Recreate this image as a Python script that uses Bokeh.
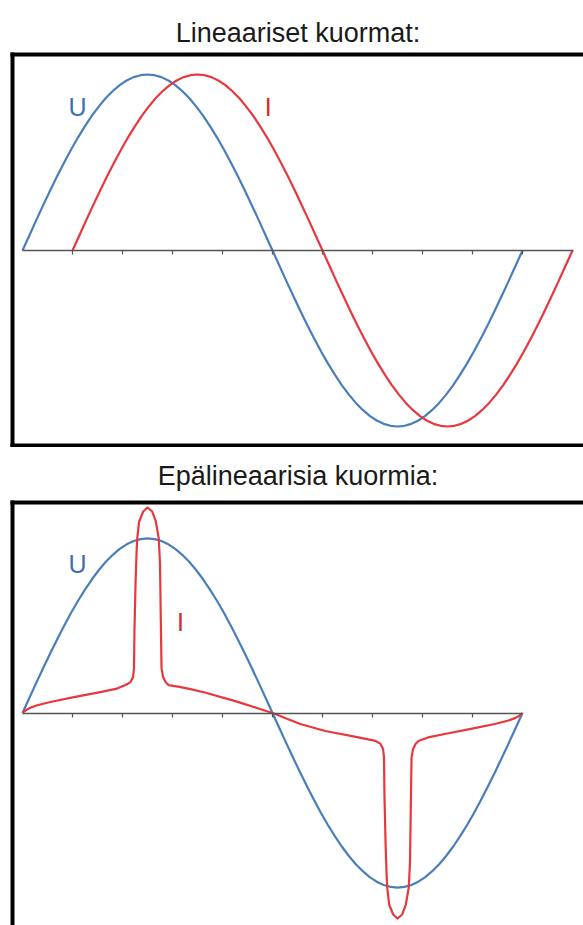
from bokeh.plotting import figure
from bokeh.models import Range1d, LinearAxis, FixedTicker
from bokeh.layouts import column
from bokeh.core.properties import value
from bokeh.embed import file_html
from bokeh.resources import INLINE

# ---------------- data ----------------
# phase angle (degrees) and voltage wave (per-unit)
u_deg = list(range(0, 361, 5))
u_wave = [0.0, 0.087, 0.174, 0.259, 0.342, 0.423, 0.5, 0.574, 0.643, 0.707, 0.766, 0.819,
          0.866, 0.906, 0.940, 0.966, 0.985, 0.996, 1.0, 0.996, 0.985, 0.966, 0.940, 0.906,
          0.866, 0.819, 0.766, 0.707, 0.643, 0.574, 0.5, 0.423, 0.342, 0.259, 0.174, 0.087,
          0.0,
          -0.087, -0.174, -0.259, -0.342, -0.423, -0.5, -0.574, -0.643, -0.707, -0.766,
          -0.819, -0.866, -0.906, -0.940, -0.966, -0.985, -0.996, -1.0, -0.996, -0.985,
          -0.966, -0.940, -0.906, -0.866, -0.819, -0.766, -0.707, -0.643, -0.574, -0.5,
          -0.423, -0.342, -0.259, -0.174, -0.087, 0.0]

# linear load: current lags the voltage by 36 degrees
i_lag_deg = 36
lin_i_deg = [d + i_lag_deg for d in u_deg]
lin_i_wave = list(u_wave)

# non-linear load current (per-unit)
nl_i_deg = [0, 2, 5, 10, 20, 38, 56, 68, 74.2, 77.8, 79.6, 80.3, 80.6, 81.4, 82.1, 82.6,
            84.0, 86.9, 90.0, 93.4, 96.0, 98.1, 99.0, 99.7, 100.1, 101.2, 103.0, 105.1,
            113, 121, 132, 143, 152, 160, 166, 171, 176, 180,
            184, 189, 200, 218, 240, 254.2, 257.8, 259.6, 260.3, 260.6, 261.4, 262.1, 262.6,
            264.0, 266.9, 270.0, 273.4, 276.0, 278.1, 279.0, 279.7, 280.1, 281.2, 283.0, 285.1,
            292, 304, 322, 340, 350, 355, 358, 360]
nl_i_wave = [0, 0.014, 0.028, 0.043, 0.063, 0.092, 0.120, 0.140, 0.160, 0.177, 0.206, 0.257,
             0.469, 0.743, 0.914, 1.0, 1.097, 1.154, 1.177, 1.154, 1.097, 1.0, 0.857, 0.469,
             0.257, 0.206, 0.177, 0.160,
             0.150, 0.137, 0.116, 0.091, 0.071, 0.051, 0.036, 0.023, 0.010, 0.0,
             -0.011, -0.029, -0.063, -0.103, -0.137, -0.160, -0.177, -0.206, -0.257, -0.469,
             -0.743, -0.914, -1.0, -1.097, -1.154, -1.177, -1.154, -1.097, -1.0, -0.857,
             -0.469, -0.257, -0.206, -0.177, -0.160,
             -0.140, -0.120, -0.092, -0.063, -0.043, -0.028, -0.014, 0.0]

top_ticks = [36, 72, 108, 144, 180, 216, 252, 288, 324, 360]
bottom_ticks = [36, 72, 108, 144, 180, 216, 252, 288, 324]

titles = ["Lineaariset kuormat:", "Epälineaarisia kuormia:"]
label_u = "U"
label_i = "I"

# ---------------- style ----------------
BLUE = "#4a7ebb"
RED = "#e8383d"
BLUE_T = "#3d70b2"
RED_T = "#d42a2a"
FONT = "Liberation Sans"


def border_axis():
    return LinearAxis(ticker=FixedTicker(ticks=[]), axis_line_color="black",
                      axis_line_width=4, axis_line_cap="square",
                      major_tick_line_color=None, minor_tick_line_color=None,
                      major_tick_out=0, major_tick_in=0, minor_tick_out=0, minor_tick_in=0,
                      major_label_standoff=0, major_label_text_font_size="0px")


def zero_axis(ticks, bounds):
    return LinearAxis(fixed_location=0, bounds=bounds, ticker=FixedTicker(ticks=ticks),
                      axis_line_color="#555555", axis_line_width=1.4,
                      major_tick_line_color="#555555", major_tick_line_width=1.2,
                      major_tick_out=4, major_tick_in=0,
                      minor_tick_line_color=None,
                      major_label_overrides={t: "" for t in ticks},
                      major_label_text_font_size="0px")


def make_fig(title, height, yr, top, bottom, with_bottom_border, ticks, bounds, standoff):
    p = figure(width=583, height=height, x_range=Range1d(-7.2, 403.92),
               y_range=Range1d(*yr), output_backend="svg", toolbar_location=None,
               x_axis_type=None, y_axis_type=None,
               min_border_left=12, min_border_right=0,
               min_border_top=top, min_border_bottom=bottom)
    p.outline_line_color = None
    p.background_fill_color = "white"
    p.border_fill_color = "white"
    p.title.text = title
    p.title.align = "center"
    p.title.text_font = FONT
    p.title.text_font_style = "normal"
    p.title.text_font_size = "27px"
    p.title.text_color = "#1a1a1a"
    p.title.standoff = standoff
    p.add_layout(border_axis(), "left")
    p.add_layout(border_axis(), "above")
    if with_bottom_border:
        p.add_layout(border_axis(), "below")
    p.add_layout(zero_axis(ticks, bounds), "below")
    return p


p1 = make_fig(titles[0], 447, (-1.108, 1.1136), 54, 2, True, top_ticks, (0, 397), 14)
p1.line(u_deg, u_wave, line_color=BLUE, line_width=2.2, line_join="round")
p1.line(lin_i_deg, lin_i_wave, line_color=RED, line_width=2.2, line_join="round")
p1.text(x=[39.6], y=[0.818], text=[label_u], text_color=BLUE_T, text_font=value(FONT),
        text_font_size="25px", text_align="center", text_baseline="middle")
p1.text(x=[177], y=[0.818], text=[label_i], text_color=RED_T, text_font=value(FONT),
        text_font_size="25px", text_align="center", text_baseline="middle")

p2 = make_fig(titles[1], 478, (-1.2171, 1.2057), 54, 0, False, bottom_ticks, (0, 360), 23)
p2.line(u_deg, u_wave, line_color=BLUE, line_width=2.2, line_join="round")
p2.line(nl_i_deg, nl_i_wave, line_color=RED, line_width=2.2, line_join="round")
p2.text(x=[39.6], y=[0.851], text=[label_u], text_color=BLUE_T, text_font=value(FONT),
        text_font_size="25px", text_align="center", text_baseline="middle")
p2.text(x=[113.8], y=[0.52], text=[label_i], text_color=RED_T, text_font=value(FONT),
        text_font_size="25px", text_align="center", text_baseline="middle")

layout = column(p1, p2, spacing=0)
open("out.html", "w").write(file_html(layout, INLINE))
